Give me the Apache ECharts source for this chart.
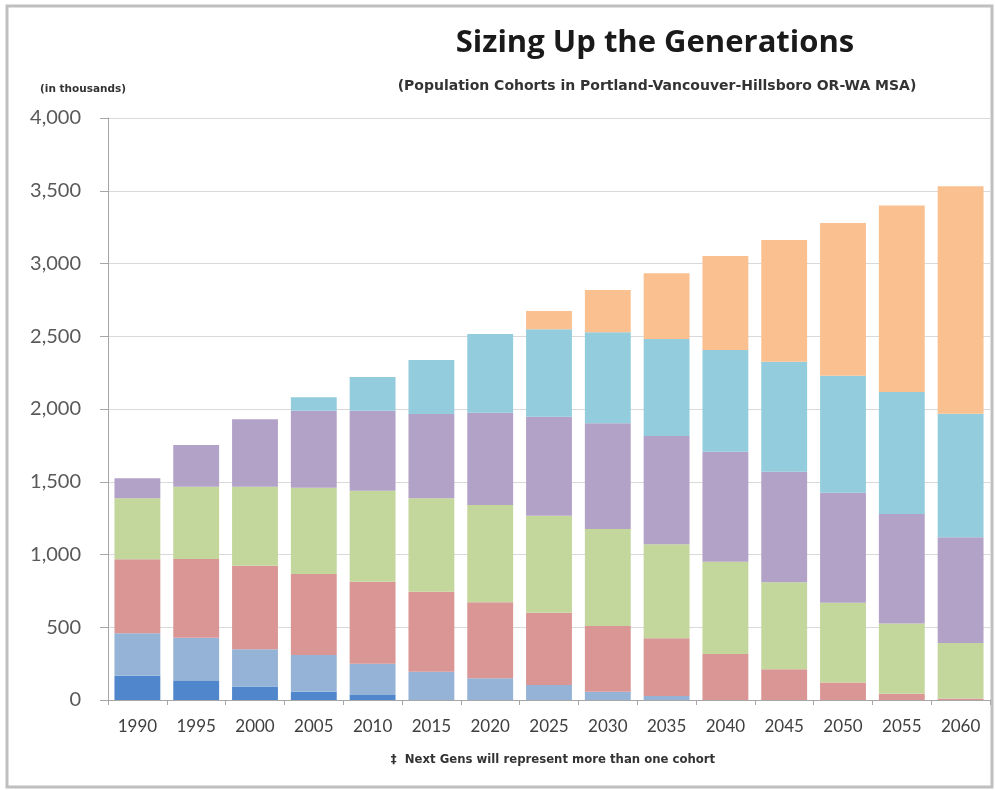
<!DOCTYPE html>
<html>
<head>
<meta charset="utf-8">
<script src="https://cdn.jsdelivr.net/npm/echarts@6/dist/echarts.min.js"></script>
<style>
html,body{margin:0;padding:0;background:#fff;}
#c{width:995px;height:790px;}
</style>
</head>
<body>
<div id="c"></div>
<script>
const categories = ['1990','1995','2000','2005','2010','2015','2020','2025','2030','2035','2040','2045','2050','2055','2060'];
const giGen      = [167,131,92,57,34,0,0,0,0,0,0,0,0,0,0];
const silentGen  = [291,297,256,252,216,195,149,103,57,27,0,0,0,0,0];
const boomers    = [509,541,575,557,563,549,522,497,452,397,316,212,121,43,10];
const genX       = [419,497,543,593,625,642,669,667,666,646,635,597,548,483,381];
const millennials= [138,287,463,529,550,580,635,680,727,744,756,760,755,753,727];
const genZ       = [0,0,0,92,232,371,540,601,625,667,698,755,804,838,849];
const nextGens   = [0,0,0,0,0,0,0,125,291,452,647,838,1050,1282,1564];
const yTicks = [0,500,1000,1500,2000,2500,3000,3500,4000];

const seriesDefs = [
  ['GI Generation', giGen, '#4F86CC'],
  ['Silent Generation', silentGen, '#95B3D7'],
  ['Baby Boomers', boomers, '#D99694'],
  ['Generation X', genX, '#C3D69B'],
  ['Millennials', millennials, '#B3A2C7'],
  ['Generation Z', genZ, '#93CDDD'],
  ['Next Gens \u2021', nextGens, '#FAC090']
];

const chart = echarts.init(document.getElementById('c'), null, {renderer:'canvas'});
const font = 'Lato, "Open Sans", sans-serif';
const wide = '"DejaVu Sans", sans-serif';
chart.setOption({
  animation: false,
  backgroundColor: '#fff',
  textStyle: {fontFamily: font},
  title: [
    {text: 'Sizing Up the Generations', left: 650, top: 23, textAlign: 'center',
     textStyle: {fontFamily: '"Open Sans", sans-serif', fontSize: 31, fontWeight: 'bold', color: '#1a1a1a'}},
    {text: '(Population Cohorts in Portland-Vancouver-Hillsboro OR-WA MSA)', left: 652, top: 74, textAlign: 'center',
     textStyle: {fontFamily: wide, fontSize: 14, fontWeight: 'bold', color: '#333'}},
    {text: '(in thousands)', left: 35, top: 79,
     textStyle: {fontFamily: wide, fontSize: 10.5, fontWeight: 'bold', color: '#333'}},
    {text: '\u2021  Next Gens will represent more than one cohort', left: 548, top: 749, textAlign: 'center',
     textStyle: {fontFamily: wide, fontSize: 11.7, fontWeight: 'bold', color: '#333'}}
  ],
  graphic: [
    {type: 'rect', shape: {x: 7, y: 6, width: 985, height: 781},
     style: {fill: 'none', stroke: '#bfbfbf', lineWidth: 3}, silent: true}
  ],
  grid: {left: 108, right: 5, top: 118, bottom: 90},
  xAxis: {
    type: 'category', data: categories,
    axisLine: {lineStyle: {color: '#a6a6a6'}},
    axisTick: {show: true, alignWithLabel: false, length: 5, lineStyle: {color: '#a6a6a6'}},
    axisLabel: {fontFamily: font, fontSize: 17, color: '#404040', margin: 18}
  },
  yAxis: {
    type: 'value', min: 0, max: 4000, interval: 500,
    axisLine: {show: true, lineStyle: {color: '#a6a6a6'}},
    axisTick: {show: true, length: 8, lineStyle: {color: '#a6a6a6'}},
    splitLine: {lineStyle: {color: '#d9d9d9', width: 1}},
    axisLabel: {fontFamily: font, fontSize: 20, color: '#595959', margin: 27,
      formatter: v => yTicks.includes(v) ? v.toLocaleString('en-US') : ''}
  },
  series: seriesDefs.map(([name, data, color]) => ({
    name, type: 'bar', stack: 'pop', data,
    barCategoryGap: '22%',
    itemStyle: {color},
    emphasis: {disabled: true}
  }))
});
</script>
</body>
</html>
